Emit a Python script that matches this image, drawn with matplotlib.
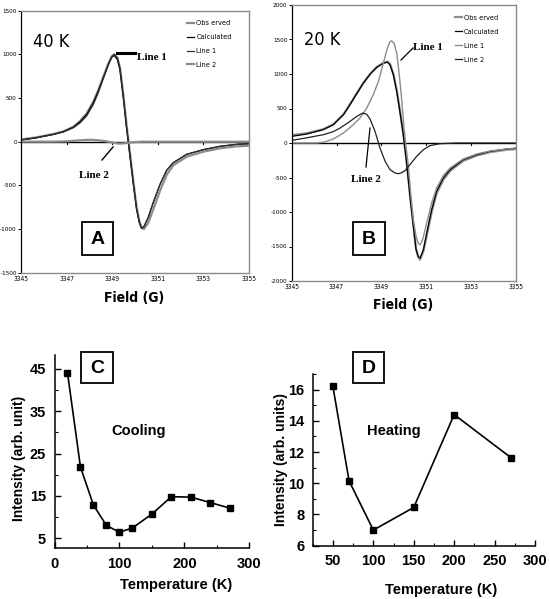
import matplotlib
matplotlib.use("Agg")
import matplotlib.pyplot as plt
from matplotlib.patches import Rectangle
from matplotlib.lines import Line2D
from matplotlib.ticker import MultipleLocator

W, H = 550, 599
NARROW = ['DejaVu Sans']
SANS = ['Liberation Sans', 'DejaVu Sans']
SERIF = ['Liberation Serif', 'DejaVu Serif']

# ---------------- Panel A (40 K) ----------------
a_field = [3345.0, 3345.69, 3346.42, 3346.86, 3347.30, 3347.59, 3347.88, 3348.17, 3348.39,
           3348.61, 3348.83, 3348.98, 3349.09, 3349.23, 3349.34, 3349.49, 3349.63, 3349.78,
           3349.93, 3350.07, 3350.19, 3350.29, 3350.39, 3350.58, 3350.80, 3351.10, 3351.39,
           3351.68, 3352.27, 3353.00, 3353.73, 3354.46, 3355.0]
a_observed = [25, 50, 88, 118, 172, 236, 322, 458, 592, 745, 895, 978, 1000, 960, 850, 535,
              190, -135, -460, -750, -910, -985, -1000, -930, -775, -560, -378, -270, -172,
              -114, -76, -53, -46]
a_calculated = [19, 46, 84, 114, 167, 228, 312, 445, 578, 730, 882, 966, 989, 939, 825, 502,
                160, -163, -487, -772, -924, -992, -973, -867, -696, -487, -327, -240, -144,
                -91, -53, -30, -23]
a_line1 = [19, 46, 83, 112, 160, 215, 295, 425, 560, 722, 880, 972, 1000, 958, 840, 515,
           170, -155, -482, -770, -925, -993, -975, -868, -697, -487, -327, -240, -144,
           -91, -53, -30, -23]
a_line2_field = [3345.0, 3346.5, 3347.0, 3347.4, 3347.8, 3348.1, 3348.4, 3348.7, 3348.9,
                 3349.1, 3349.3, 3349.5, 3349.7, 3350.0, 3350.3, 3351.0, 3355.0]
a_line2 = [0, 1, 4, 12, 20, 22, 16, 6, -4, -15, -22, -20, -12, -4, 0, 0, 0]

# ---------------- Panel B (20 K) ----------------
b_field = [3345.0, 3345.67, 3346.41, 3346.86, 3347.31, 3347.60, 3347.90, 3348.20, 3348.50,
           3348.79, 3349.09, 3349.27, 3349.39, 3349.54, 3349.69, 3349.84, 3349.98, 3350.13,
           3350.28, 3350.43, 3350.55, 3350.65, 3350.73, 3350.88, 3351.03, 3351.25, 3351.47,
           3351.77, 3352.07, 3352.66, 3353.26, 3353.85, 3354.60, 3355.0]
b_observed = [115, 140, 200, 270, 415, 560, 718, 872, 1000, 1100, 1160, 1180, 1145, 1000,
              765, 455, 140, -270, -750, -1190, -1530, -1650, -1690, -1570, -1340, -1000,
              -730, -530, -405, -258, -182, -133, -97, -88]
b_calculated = [96, 130, 193, 265, 410, 554, 713, 868, 997, 1094, 1156, 1171, 1132, 988,
                747, 434, 120, -290, -772, -1205, -1543, -1649, -1668, -1543, -1302, -965,
                -699, -506, -386, -241, -169, -121, -87, -77]
b_line1_field = [3345.0, 3346.11, 3346.41, 3346.86, 3347.31, 3347.75, 3348.05, 3348.35,
                 3348.64, 3348.87, 3349.09, 3349.27, 3349.39, 3349.46, 3349.57, 3349.69,
                 3349.81, 3349.91, 3350.01, 3350.10, 3350.21, 3350.31, 3350.43, 3350.55,
                 3350.65, 3350.73, 3350.85, 3351.03, 3351.25, 3351.47, 3351.77, 3352.07,
                 3352.66, 3353.26, 3353.85, 3354.60, 3355.0]
b_line1 = [0, 0, 10, 58, 145, 265, 362, 506, 699, 891, 1157, 1373, 1470, 1480, 1446, 1301,
           964, 626, 241, -48, -337, -723, -1108, -1350, -1456, -1475, -1398, -1157, -868,
           -651, -472, -362, -231, -159, -116, -87, -72]
b_line2_field = [3345.0, 3345.67, 3346.41, 3346.86, 3347.16, 3347.60, 3347.90, 3348.17,
                 3348.35, 3348.50, 3348.72, 3348.94, 3349.17, 3349.39, 3349.61, 3349.76,
                 3349.91, 3350.06, 3350.28, 3350.58, 3350.88, 3351.17, 3351.62, 3352.36,
                 3355.0]
b_line2 = [38, 75, 120, 165, 217, 313, 385, 434, 415, 347, 169, -72, -265, -386, -434, -445,
           -430, -400, -313, -193, -96, -39, -10, 0, 0]

field_ticks = [3345, 3347, 3349, 3351, 3353, 3355]
legend_labels = ['Obs erved', 'Calculated', 'Line 1', 'Line 2']

# ---------------- Panel C (cooling) ----------------
c_temp = [20, 40, 60, 80, 100, 120, 150, 180, 210, 240, 270]
c_int = [44.1, 21.8, 12.8, 8.0, 6.4, 7.4, 10.7, 14.8, 14.7, 13.4, 12.1]

# ---------------- Panel D (heating) ----------------
d_temp = [50, 70, 100, 150, 200, 270]
d_int = [16.2, 10.15, 7.0, 8.45, 14.4, 11.65]

fig = plt.figure(figsize=(W / 100, H / 100), dpi=100)


def px_axes(l, t, r, b):
    return fig.add_axes([l / W, 1 - b / H, (r - l) / W, (b - t) / H])


def ftext(x, y, s, **kw):
    kw.setdefault('ha', 'center')
    kw.setdefault('va', 'center')
    fig.text(x / W, 1 - y / H, s, **kw)


def fbox(l, t, r, b, s):
    fig.add_artist(Rectangle((l / W, 1 - b / H), (r - l) / W, (b - t) / H,
                             transform=fig.transFigure, fill=False, lw=1.3, ec='black'))
    ftext((l + r) / 2, (t + b) / 2 + 1, s, family=SANS, weight='bold', fontsize=14)


def fline(x0, y0, x1, y1, lw=1.0, color='black'):
    fig.add_artist(Line2D([x0 / W, x1 / W], [1 - y0 / H, 1 - y1 / H],
                          transform=fig.transFigure, lw=lw, color=color))


def epr_axes(ax, ylim, ystep):
    ax.set_xlim(3345, 3355)
    ax.set_ylim(*ylim)
    for s in ['top', 'right', 'bottom']:
        ax.spines[s].set_color('#8a8a8a')
        ax.spines[s].set_linewidth(1.0)
    ax.spines['left'].set_color('black')
    ax.spines['left'].set_linewidth(0.9)
    ax.axhline(0, color='black', lw=1.0, zorder=1)
    ax.set_xticks(field_ticks)
    ax.set_xticklabels([str(t) for t in field_ticks], family=NARROW, stretch='condensed',
                       fontsize=4.8)
    ax.yaxis.set_major_locator(MultipleLocator(ystep))
    ax.set_yticks(ax.get_yticks())
    ax.set_yticklabels([str(int(v)) for v in ax.get_yticks()], family=NARROW,
                       stretch='condensed', fontsize=4.6)
    ax.set_ylim(*ylim)
    ax.tick_params(axis='x', length=0, pad=2.5)
    ax.tick_params(axis='y', length=2.0, width=0.7, direction='out', pad=1.0)
    # tick marks along the zero line
    for t in field_ticks[1:-1]:
        ax.plot([t, t], [0, -ylim[1] * 0.018], color='black', lw=0.8, zorder=1)


# ---- A ----
axA = px_axes(21, 10.7, 249, 272.7)
lA1, = axA.plot(a_field, a_observed, color='#8c8c8c', lw=1.6, label=legend_labels[0])
lA2, = axA.plot(a_field, a_calculated, color='black', lw=0.9, label=legend_labels[1])
lA3, = axA.plot(a_field, a_line1, color='#303030', lw=0.9, label=legend_labels[2])
lA4, = axA.plot(a_line2_field, a_line2, color='#8c8c8c', lw=1.6, label=legend_labels[3])
epr_axes(axA, (-1500, 1500), 500)
axA.legend(handles=[lA1, lA2, lA3, lA4], loc='upper left', bbox_to_anchor=(0.715, 0.975),
           frameon=False, prop={'family': NARROW, 'stretch': 'condensed', 'size': 5.3},
           handlelength=1.0, handletextpad=0.25, labelspacing=1.05, borderaxespad=0)

# ---- B ----
axB = px_axes(291.7, 5, 515.7, 281)
lB1, = axB.plot(b_field, b_observed, color='#8c8c8c', lw=1.6, label=legend_labels[0])
lB2, = axB.plot(b_field, b_calculated, color='black', lw=0.9, label=legend_labels[1])
lB3, = axB.plot(b_line1_field, b_line1, color='#8c8c8c', lw=1.0, label=legend_labels[2])
lB4, = axB.plot(b_line2_field, b_line2, color='#202020', lw=0.9, label=legend_labels[3])
epr_axes(axB, (-2000, 2000), 500)
axB.legend(handles=[lB1, lB2, lB3, lB4], loc='upper left', bbox_to_anchor=(0.715, 0.975),
           frameon=False, prop={'family': NARROW, 'stretch': 'condensed', 'size': 5.3},
           handlelength=1.0, handletextpad=0.25, labelspacing=1.05, borderaxespad=0)

# text annotations for A and B
ftext(51, 42, '40 K', family=NARROW, stretch='condensed', fontsize=13)
ftext(322, 40, '20 K', family=NARROW, stretch='condensed', fontsize=13)
ftext(134, 298, 'Field (G)', family=NARROW, stretch='condensed', fontsize=10, weight='bold')
ftext(403, 305, 'Field (G)', family=NARROW, stretch='condensed', fontsize=10, weight='bold')

ftext(152, 57, 'Line 1', family=SERIF, fontsize=8, weight='bold')
fline(117, 53.3, 135, 53.3, lw=2.2)
ftext(94, 176, 'Line 2', family=SERIF, fontsize=8, weight='bold')
fline(102, 160, 113, 147, lw=1.0)
ftext(428, 47, 'Line 1', family=SERIF, fontsize=8, weight='bold')
fline(413, 48, 401, 60, lw=0.9)
ftext(366, 179, 'Line 2', family=SERIF, fontsize=8, weight='bold')
fline(366, 167, 370, 128, lw=0.9)

fbox(82, 222, 113, 255, 'A')
fbox(353, 222, 385, 255, 'B')

# ---- C ----
axC = px_axes(54.5, 355, 249.3, 548.3)
axC.plot(c_temp, c_int, color='black', lw=1.2, marker='s', ms=4)
axC.set_xlim(0, 300)
axC.set_ylim(2.6, 48.3)
axC.xaxis.set_major_locator(MultipleLocator(100))
axC.xaxis.set_minor_locator(MultipleLocator(50))
axC.set_yticks([5, 15, 25, 35, 45])
axC.yaxis.set_minor_locator(MultipleLocator(5))

# ---- D ----
axD = px_axes(312.7, 374, 535, 545.7)
axD.plot(d_temp, d_int, color='black', lw=1.2, marker='s', ms=4)
axD.set_xlim(25, 300)
axD.set_ylim(6, 17)
axD.xaxis.set_major_locator(MultipleLocator(50))
axD.xaxis.set_minor_locator(MultipleLocator(25))
axD.yaxis.set_major_locator(MultipleLocator(2))
axD.yaxis.set_minor_locator(MultipleLocator(1))

for ax in (axC, axD):
    for s in ['top', 'right']:
        ax.spines[s].set_visible(False)
    for s in ['left', 'bottom']:
        ax.spines[s].set_linewidth(1.1)
    ax.tick_params(which='major', direction='in', length=4, width=1.0, labelsize=10.5, pad=6)
    ax.tick_params(which='minor', direction='in', length=2.5, width=0.8)
    for lab in ax.get_xticklabels() + ax.get_yticklabels():
        lab.set_family(SANS)
        lab.set_fontweight('bold')

ftext(139, 431, 'Cooling', family=SANS, fontsize=10.5, weight='bold')
ftext(394, 431, 'Heating', family=SANS, fontsize=10.5, weight='bold')
ftext(19, 458, 'Intensity (arb. unit)', family=SANS, fontsize=10, weight='bold', rotation=90)
ftext(281, 460, 'Intensity (arb. units)', family=SANS, fontsize=10, weight='bold', rotation=90)
ftext(176, 585, 'Temperature (K)', family=SANS, fontsize=10.5, weight='bold')
ftext(441, 590, 'Temperature (K)', family=SANS, fontsize=10.5, weight='bold')

fbox(81, 352, 113, 383, 'C')
fbox(353, 352, 384, 383, 'D')

fig.savefig('out.png', dpi=100)
